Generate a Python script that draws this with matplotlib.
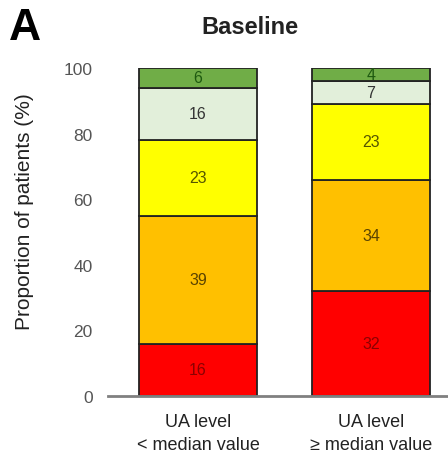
import matplotlib
matplotlib.use("Agg")
import matplotlib.pyplot as plt
import numpy as np

plt.rcParams['font.family'] = ['Liberation Sans', 'DejaVu Sans']

groups = ["UA level\n< median value", "UA level\n\u2265 median value"]
segments = ["red", "orange", "yellow", "light green", "green"]
values_low = [16, 39, 23, 16, 6]
values_high = [32, 34, 23, 7, 4]
seg_colors = ["#FF0000", "#FFC000", "#FFFF00", "#E2EFDA", "#70AD47"]
text_colors = ["#8B0000", "#5A4300", "#555500", "#333333", "#1E5A10"]
yticks = [0, 20, 40, 60, 80, 100]

data = np.array([values_low, values_high])

fig = plt.figure(figsize=(4.48, 4.56), dpi=100)
ax = fig.add_axes([0.241, 0.1294, 0.759, 0.7193])

x = np.arange(len(groups))
bottom = np.zeros(len(groups))
for i in range(len(segments)):
    vals = data[:, i]
    ax.bar(x, vals, width=0.682, bottom=bottom, color=seg_colors[i],
           edgecolor="#222222", linewidth=1.3, zorder=2)
    for xi, v, b in zip(x, vals, bottom):
        ax.text(xi, b + v / 2, str(v), ha="center", va="center",
                fontsize=11.5, color=text_colors[i], zorder=3)
    bottom += vals

ax.set_xlim(-0.52, 1.445)
ax.set_ylim(0, 100)
ax.set_yticks(yticks)
ax.set_yticklabels([str(t) for t in yticks], color="#555555", fontsize=12.5)
ax.set_xticks(x)
ax.set_xticklabels(groups, fontsize=13, color="#222222", linespacing=1.5)
ax.tick_params(axis="both", length=0)
ax.tick_params(axis="y", pad=11)
ax.tick_params(axis="x", pad=12)
for s in ["top", "right", "left"]:
    ax.spines[s].set_visible(False)
ax.spines["bottom"].set_color("#808080")
ax.spines["bottom"].set_linewidth(2)

fig.text(25 / 448, 1 - 212 / 456, "Proportion of patients (%)", rotation=90,
         ha="center", va="center", fontsize=15, color="#222222")

fig.text(250 / 448, 1 - 27 / 456, "Baseline", ha="center", va="center", fontsize=17,
         fontweight="bold", color="#222222")
fig.text(0.02, 1 - 28 / 456, "A", ha="left", va="center", fontsize=32,
         fontweight="bold", color="black")

fig.savefig("out.png", dpi=100)
